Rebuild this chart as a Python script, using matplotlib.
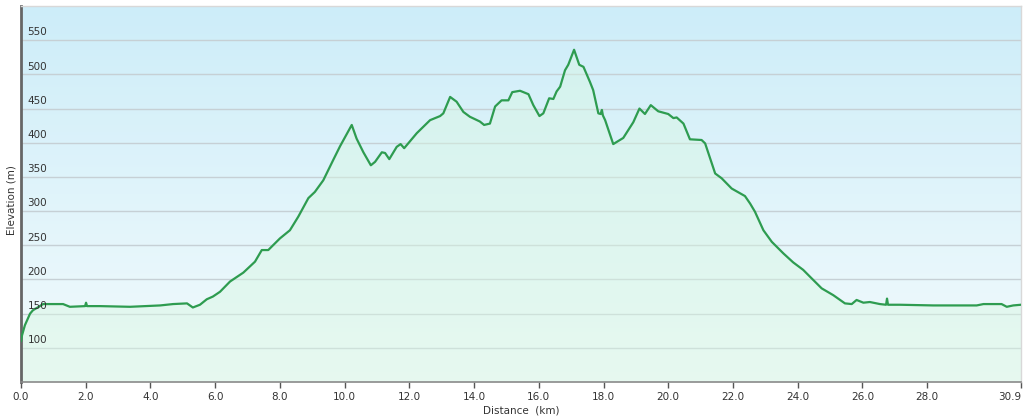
import numpy as np
import matplotlib
matplotlib.use('Agg')
import matplotlib.pyplot as plt
from matplotlib.colors import LinearSegmentedColormap

# Profil altimetrique : distance (km) / altitude (m)
distance = [0.00, 0.03, 0.12, 0.28, 0.37, 0.55, 0.68, 1.30, 1.51, 1.98, 2.01, 2.04,
            2.44, 3.37, 4.30, 4.70, 5.13, 5.31, 5.53, 5.74, 5.93, 6.15, 6.46, 6.87,
            7.23, 7.44, 7.64, 8.00, 8.31, 8.57, 8.88, 9.08, 9.34, 9.65, 9.86, 10.22,
            10.37, 10.58, 10.81, 10.94, 11.15, 11.25, 11.38, 11.61, 11.73, 11.84, 12.23,
            12.64, 12.95, 13.05, 13.26, 13.46, 13.67, 13.87, 14.18, 14.31, 14.49, 14.65,
            14.85, 15.06, 15.18, 15.42, 15.68, 15.83, 16.02, 16.14, 16.32, 16.45, 16.55,
            16.66, 16.81, 16.91, 17.09, 17.25, 17.38, 17.58, 17.68, 17.84, 17.91, 17.95,
            17.98, 18.05, 18.30, 18.61, 18.92, 19.11, 19.28, 19.46, 19.69, 20.00, 20.16,
            20.26, 20.47, 20.67, 21.03, 21.14, 21.45, 21.65, 21.96, 22.37, 22.53, 22.68,
            22.94, 23.20, 23.56, 23.86, 24.17, 24.38, 24.74, 25.10, 25.46, 25.67, 25.82,
            26.03, 26.23, 26.54, 26.73, 26.76, 26.79, 27.16, 28.19, 29.53, 29.74, 30.30,
            30.46, 30.66, 30.90]
altitude = [110, 118, 133, 150, 155, 160, 164, 164, 160, 161, 166, 161,
            161, 160, 162, 164, 165, 159, 163, 171, 175, 182, 197, 210,
            226, 243, 243, 260, 272, 292, 319, 328, 345, 375, 395, 426,
            406, 386, 367, 372, 386, 385, 376, 394, 398, 392, 414,
            433, 439, 443, 467, 460, 445, 438, 431, 426, 428, 453,
            462, 462, 474, 476, 471, 455, 439, 443, 465, 464, 475,
            482, 506, 514, 536, 514, 511, 489, 477, 443, 442, 448,
            440, 433, 398, 407, 430, 450, 442, 455, 446, 442, 436,
            437, 428, 405, 404, 399, 355, 348, 333, 322, 311, 299,
            272, 255, 238, 225, 214, 204, 187, 177, 165, 164, 170,
            166, 167, 164, 163, 172, 163, 163, 162, 162, 164, 164,
            160, 162, 163]

xticks = [0, 2, 4, 6, 8, 10, 12, 14, 16, 18, 20, 22, 24, 26, 28, 30.9]
xtick_labels = ['0.0', '2.0', '4.0', '6.0', '8.0', '10.0', '12.0', '14.0', '16.0',
                '18.0', '20.0', '22.0', '24.0', '26.0', '28.0', '30.9']
yticks = [100, 150, 200, 250, 300, 350, 400, 450, 500, 550]

fig = plt.figure(figsize=(10.24, 4.19), dpi=100)
ax = fig.add_axes([21 / 1024, 37 / 419, 1000 / 1024, 376 / 419])
ax.set_xlim(0, 30.9)
ax.set_ylim(50, 600)

# fond degrade bleu -> blanc
fond = LinearSegmentedColormap.from_list('fond', ['#f3fbfc', '#cdedf9'])
ax.imshow(np.linspace(0, 1, 256).reshape(-1, 1), cmap=fond, origin='lower',
          extent=[0, 30.9, 50, 600], aspect='auto', zorder=0)

for v in yticks:
    ax.axhline(v, color='#c6d0d5', lw=1.0, zorder=1)
    ax.text(0.2, v + 4, str(v), fontsize=7.5, color='#333333', ha='left', va='bottom', zorder=4)

ax.fill_between(distance, altitude, 50, color='#d8f7e2', alpha=0.45, lw=0, zorder=2)
ax.plot(distance, altitude, color='#2e9c50', lw=1.6, zorder=3)

ax.set_yticks([])
ax.set_xticks(xticks)
ax.set_xticklabels(xtick_labels)
ax.tick_params(axis='x', direction='out', length=4, width=1, color='#555555',
               labelsize=7.5, labelcolor='#333333', pad=3)
ax.get_xticklabels()[-1].set_ha('right')

ax.spines['left'].set_color('#666666')
ax.spines['left'].set_linewidth(2)
ax.spines['bottom'].set_color('#8a8a8a')
ax.spines['bottom'].set_linewidth(1.2)
for s in ['top', 'right']:
    ax.spines[s].set_color('#d8d8d8')
    ax.spines[s].set_linewidth(1)

ax.set_xlabel("Distance  (km)", fontsize=7.5, color='#333333', labelpad=3)
fig.text(12 / 1024, 1 - 200 / 419, "Elevation (m)", rotation=90, fontsize=7.5,
         color='#333333', ha='center', va='center')

plt.savefig('out.png', dpi=100)
